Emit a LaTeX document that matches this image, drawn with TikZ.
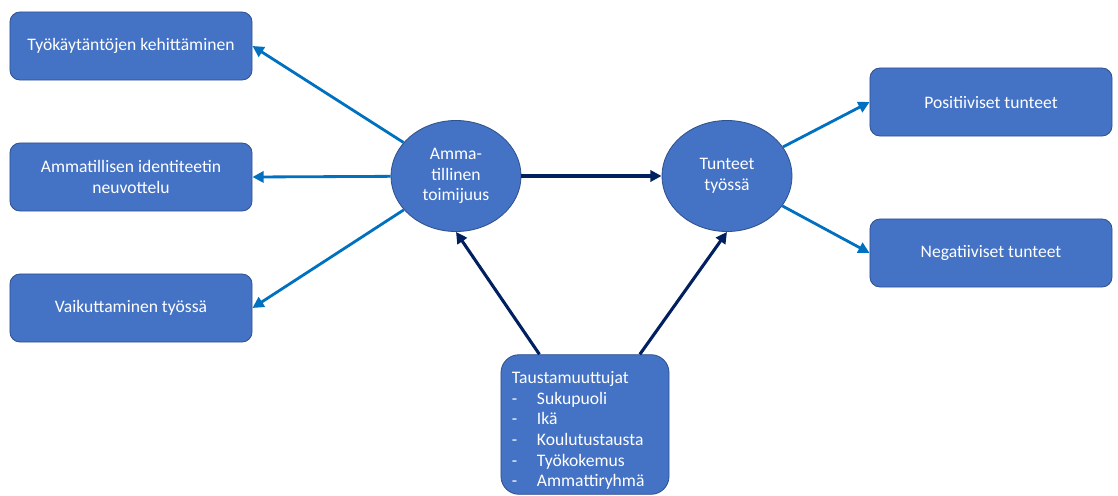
\documentclass[tikz,border=0pt]{standalone}
\usepackage{fontspec}
\setmainfont{Carlito}
\usetikzlibrary{arrows.meta,shapes.geometric}

\definecolor{boxfill}{HTML}{4472C4}
\definecolor{boxline}{HTML}{2F528F}
\definecolor{lightarr}{HTML}{0070C0}
\definecolor{darkarr}{HTML}{002060}

\begin{document}
\begin{tikzpicture}[x=0.025cm, y=-0.025cm,
    font=\fontsize{12.5}{14.7}\selectfont,
    box/.style={draw=boxline, fill=boxfill, text=white, rounded corners=0.25cm,
      minimum width=6.05cm, minimum height=1.7cm, align=center, semithick},
    oval/.style={ellipse, draw=boxline, fill=boxfill, text=white,
      minimum width=3.25cm, minimum height=2.775cm, align=center, inner sep=0pt, semithick},
    light/.style={draw=lightarr, line width=2pt, -{Triangle[length=8pt,width=8pt]}},
    dark/.style={draw=darkarr, line width=2.2pt, -{Triangle[length=8pt,width=8pt]}}]
  \useasboundingbox (0,0) rectangle (1118,495);
  % left column
  \node[box] (dev) at (131,46)  {Työkäytäntöjen kehittäminen};
  \node[box] (ident) at (131,177) {Ammatillisen identiteetin\\neuvottelu};
  \node[box] (infl) at (131,308) {Vaikuttaminen työssä};
  % middle
  \node[oval] (agency) at (456,176) {Amma-\\tillinen\\toimijuus};
  \node[oval] (emo) at (727,176) {Tunteet\\työssä};
  % right column
  \node[box] (pos) at (991,102) {Positiiviset tunteet};
  \node[box] (neg) at (991,253) {Negatiiviset tunteet};
  % background variables
  \node[box, minimum width=4.2cm, minimum height=3.475cm, text width=3.65cm,
        inner xsep=0.275cm, align=left, rounded corners=0.45cm] (bg) at (585,424.5)
    {\rule{0pt}{0.6cm}Taustamuuttujat\\
     \makebox[0.625cm][l]{-}Sukupuoli\\
     \makebox[0.625cm][l]{-}Ikä\\
     \makebox[0.625cm][l]{-}Koulutustausta\\
     \makebox[0.625cm][l]{-}Työkokemus\\
     \makebox[0.625cm][l]{-}Ammattiryhmä};
  \path (agency) edge[light] (dev.east)
        (agency) edge[light] (ident.east)
        (agency) edge[light] (infl.east)
        (emo) edge[light] (pos.west)
        (emo) edge[light] (neg.west)
        (agency.east) edge[dark] (emo.west)
        (bg.123) edge[dark] (agency.south)
        (bg.52) edge[dark] (emo.south);
\end{tikzpicture}
\end{document}
